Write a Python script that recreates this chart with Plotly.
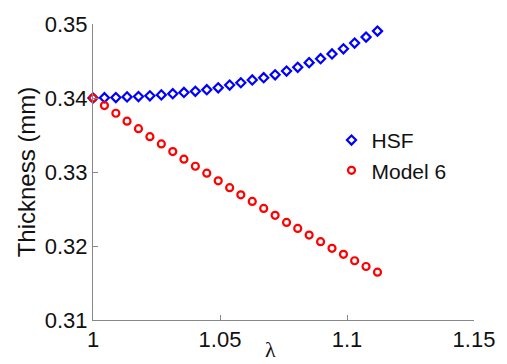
import plotly.graph_objects as go

lam = [1.0000, 1.0045, 1.0090, 1.0134, 1.0179, 1.0224, 1.0269, 1.0314, 1.0358,
       1.0403, 1.0448, 1.0493, 1.0538, 1.0582, 1.0627, 1.0672, 1.0717, 1.0762,
       1.0806, 1.0851, 1.0896, 1.0941, 1.0986, 1.1030, 1.1075, 1.1120]

hsf = [0.34000, 0.34004, 0.34006, 0.34015, 0.34020, 0.34030, 0.34042, 0.34058,
       0.34075, 0.34090, 0.34112, 0.34138, 0.34175, 0.34206, 0.34244, 0.34274,
       0.34313, 0.34364, 0.34415, 0.34478, 0.34531, 0.34595, 0.34665, 0.34742,
       0.34823, 0.34904]

model6 = [0.34000, 0.33897, 0.33794, 0.33687, 0.33585, 0.33477, 0.33379, 0.33276,
          0.33173, 0.33078, 0.32984, 0.32881, 0.32788, 0.32692, 0.32602, 0.32508,
          0.32414, 0.32319, 0.32238, 0.32148, 0.32058, 0.31968, 0.31887, 0.31801,
          0.31723, 0.31646]

x_ticks = [1, 1.05, 1.1, 1.15]
x_ticklabels = ["1", "1.05", "1.1", "1.15"]
y_ticks = [0.31, 0.32, 0.33, 0.34, 0.35]
y_ticklabels = ["0.31", "0.32", "0.33", "0.34", "0.35"]

FONT = "Arial, Liberation Sans, sans-serif"

fig = go.Figure()
fig.add_trace(go.Scatter(
    x=lam, y=hsf, mode="markers", name="HSF", cliponaxis=False,
    marker=dict(symbol="diamond-open", size=7, color="#0000ff",
                line=dict(width=2.2, color="#0000ff")),
))
fig.add_trace(go.Scatter(
    x=lam, y=model6, mode="markers", name="Model 6", cliponaxis=False,
    marker=dict(symbol="circle-open", size=7, color="#ff0000",
                line=dict(width=2.2, color="#ff0000")),
))

fig.update_layout(
    width=507, height=364,
    margin=dict(l=92.5, r=26.3, t=17, b=36),
    plot_bgcolor="white", paper_bgcolor="white",
    font=dict(family=FONT, size=22, color="#111111"),
    showlegend=True,
    legend=dict(x=0.626, y=0.676, xanchor="left", yanchor="top",
                bgcolor="rgba(0,0,0,0)", borderwidth=0,
                font=dict(family=FONT, size=21, color="#111111"),
                itemsizing="trace", tracegroupgap=0),
    xaxis=dict(range=[1, 1.15], tickvals=x_ticks, ticktext=x_ticklabels,
               showgrid=False, zeroline=False, showline=True,
               linecolor="#888888", linewidth=1,
               ticks="inside", ticklen=5, tickcolor="#888888",
               tickfont=dict(family=FONT, size=22, color="#111111")),
    yaxis=dict(range=[0.31, 0.35], tickvals=y_ticks, ticktext=y_ticklabels,
               showgrid=False, zeroline=False, showline=True,
               linecolor="#888888", linewidth=1,
               ticks="inside", ticklen=5, tickcolor="#888888",
               tickfont=dict(family=FONT, size=22, color="#111111"),
               title=dict(text="Thickness (mm)", standoff=2,
                          font=dict(family=FONT, size=24, color="#111111"))),
    annotations=[dict(text="λ", xref="paper", yref="paper", x=0.465, y=-0.05,
                      xanchor="center", yanchor="top", showarrow=False,
                      font=dict(family="Liberation Serif, serif", size=22,
                                color="#111111"))],
)

fig.write_html("out.html")
